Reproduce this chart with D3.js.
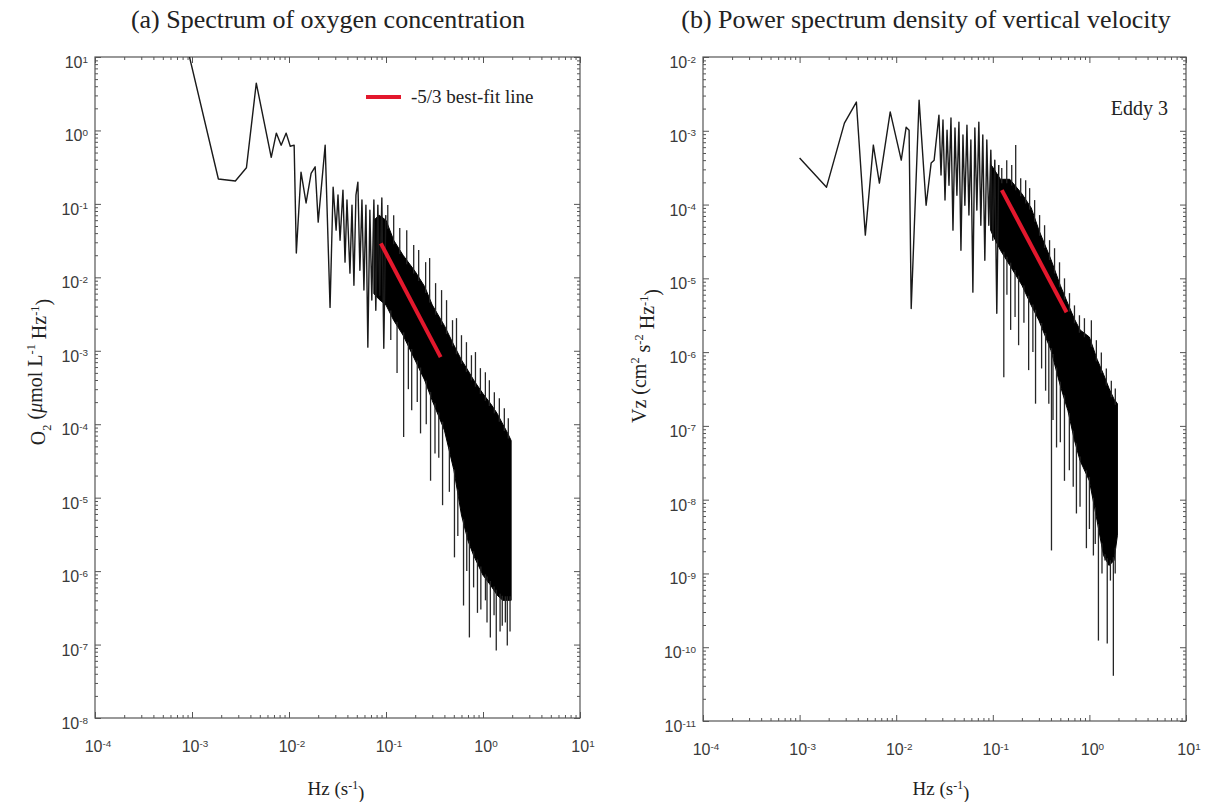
<html>
<head>
<meta charset="utf-8">
<style>
  body { margin: 0; background: #fff; }
  .box { fill: none; stroke: #555; stroke-width: 1.2; }
  .tick line { stroke: #555; }
  .domain { display: none; }
  .tlabel { font-family: "Liberation Sans", Arial, sans-serif; font-size: 16px; fill: #3a3a3a; }
  .serif { font-family: "Liberation Serif", "Times New Roman", serif; fill: #222; }
  .spec { fill: none; stroke: #1a1a1a; stroke-width: 1.4; stroke-linejoin: round; }
  .spike { stroke: #262626; stroke-width: 1.3; }
  .band { fill: #000; stroke: #000; stroke-width: 1; }
  .fit { stroke: #e3182d; stroke-width: 4; }
</style>
</head>
<body>
<svg id="chart" width="1208" height="802"></svg>
<script src="https://cdn.jsdelivr.net/npm/d3@7"></script>
<script>
// ---------- data ----------
const xTickExp = [-4, -3, -2, -1, 0, 1]
const oxyTickExp = [1, 0, -1, -2, -3, -4, -5, -6, -7, -8]
const vzTickExp = [-2, -3, -4, -5, -6, -7, -8, -9, -10, -11]

// (a) oxygen spectrum: low / middle frequencies as a line
const oxyLineHz = [0.0008, 0.00187, 0.0028, 0.00364, 0.0046, 0.00656, 0.0074, 0.0083, 0.00935, 0.0103, 0.0113, 0.0119,
  0.0133, 0.015, 0.0169, 0.0186, 0.02, 0.0236, 0.0265, 0.0285, 0.0306, 0.032, 0.0336, 0.036, 0.0378, 0.0396, 0.0425,
  0.0446, 0.0467, 0.049, 0.0513, 0.0538, 0.0565, 0.0592, 0.0621, 0.065, 0.0682, 0.0714, 0.075, 0.0785, 0.0824,
  0.0863, 0.0906, 0.0949, 0.0995]
const oxyLineVal = [25, 0.218, 0.205, 0.31, 4.4, 0.43, 0.92, 0.63, 0.92, 0.61, 0.63, 0.0214,
  0.27, 0.103, 0.26, 0.32, 0.0565, 0.63, 0.0039, 0.169, 0.0439, 0.132, 0.032, 0.154, 0.0161, 0.113, 0.0114,
  0.0963, 0.0078, 0.132, 0.198, 0.0125, 0.113, 0.0067, 0.0963, 0.00112, 0.082, 0.0049, 0.113, 0.00357, 0.0963,
  0.00571, 0.12, 0.00108, 0.0703]
// (a) high frequencies: solid core of the trace
const oxyBandHz = [0.075, 0.085, 0.1, 0.12, 0.15, 0.2, 0.25, 0.3, 0.4, 0.5, 0.6, 0.7, 0.8, 1.0, 1.2, 1.4, 1.6, 1.8, 1.95]
const oxyBandTop = [0.06, 0.07, 0.06, 0.032, 0.02, 0.012, 0.0075, 0.0042, 0.0022, 0.0012, 7.5e-4, 5.4e-4, 4e-4,
  2.6e-4, 1.9e-4, 1.4e-4, 1.0e-4, 7.5e-5, 6.0e-5]
const oxyBandLow = [0.006, 0.005, 0.0042, 0.0026, 0.00163, 7.4e-4, 4.0e-4, 2.1e-4, 8.3e-5, 2.4e-5, 5.8e-6, 2.6e-6,
  1.64e-6, 8.8e-7, 6.4e-7, 4.7e-7, 4.0e-7, 4.0e-7, 4.0e-7]
// (a) peaks above the core
const oxyUpHz = [0.1043, 0.12, 0.1386, 0.1636, 0.193, 0.2172, 0.2563, 0.2817, 0.3245, 0.374, 0.421, 0.485, 0.533,
  0.6, 0.675, 0.76, 0.836, 0.94, 1.058, 1.163, 1.309, 1.474, 1.659, 1.823]
const oxyUpVal = [0.0963, 0.0703, 0.0468, 0.0439, 0.0275, 0.0235, 0.0161, 0.0183, 0.00834, 0.0067, 0.00489, 0.00261,
  0.00278, 0.00163, 0.00131, 8.7e-4, 9.6e-4, 5.8e-4, 5.1e-4, 3.97e-4, 2.73e-4, 2.26e-4, 1.65e-4, 1.21e-4]
// (a) dips below the core
const oxyDownHz = [0.112, 0.13, 0.152, 0.17, 0.184, 0.21, 0.227, 0.26, 0.288, 0.32, 0.35, 0.383, 0.45, 0.508, 0.55,
  0.63, 0.68, 0.724, 0.8, 0.877, 0.95, 1.06, 1.1, 1.19, 1.3, 1.37, 1.5, 1.58, 1.7, 1.78, 1.9]
const oxyDownVal = [0.0014, 5e-4, 6.7e-5, 3e-4, 1.55e-4, 2e-4, 7.5e-5, 1e-4, 1.7e-5, 4e-5, 3.5e-5, 7.9e-6, 1.2e-5,
  1.54e-6, 3e-6, 3.4e-7, 1e-6, 1.25e-7, 6e-7, 2.7e-7, 3e-7, 4e-7, 2e-7, 1.25e-7, 2.5e-7, 8.3e-8, 1.5e-7, 1.8e-7,
  2e-7, 9.7e-8, 1.5e-7]
const oxyFitHz = [0.0885, 0.366]
const oxyFitVal = [0.029, 8.2e-4]

// (b) vertical velocity spectrum
const vzLineHz = [0.001, 0.0019, 0.00291, 0.00387, 0.00479, 0.0058, 0.0067, 0.00867, 0.01128, 0.01268, 0.0136,
  0.0143, 0.01726, 0.0204, 0.023, 0.0247, 0.0277, 0.0291, 0.0305, 0.032, 0.0336, 0.0352, 0.0369, 0.0387, 0.0406,
  0.0425, 0.0446, 0.0468, 0.0491, 0.0514, 0.054, 0.0566, 0.0593, 0.0622, 0.0652, 0.0684, 0.0717, 0.0752, 0.0788,
  0.0827, 0.0867, 0.0909, 0.0954, 0.1, 0.1049, 0.11, 0.1153]
const vzLineVal = [4.27e-4, 1.72e-4, 1.27e-3, 2.45e-3, 3.85e-5, 6.4e-4, 1.95e-4, 1.8e-3, 4.0e-4, 1.12e-3, 1.02e-3,
  3.9e-6, 2.6e-3, 9.8e-5, 3.65e-4, 4.0e-4, 1.63e-3, 2.51e-4, 1.4e-3, 1.15e-4, 1.02e-3, 1.83e-4, 1.49e-3, 4.5e-5,
  1.09e-3, 1.34e-4, 1.31e-3, 2.4e-5, 8.75e-4, 9.8e-5, 1.19e-3, 7.2e-5, 7.5e-4, 6.5e-6, 1.09e-3, 8.4e-5, 1.31e-3,
  5.25e-5, 8.75e-4, 1.76e-5, 7.5e-4, 5.25e-5, 5.47e-4, 3.29e-5, 4.0e-4, 3.36e-6, 3.43e-4]
const vzBandHz = [0.095, 0.1, 0.12, 0.15, 0.2, 0.25, 0.3, 0.4, 0.5, 0.6, 0.7, 0.8, 1.0, 1.2, 1.4, 1.6, 1.8, 1.95]
const vzBandTop = [3.5e-4, 3.2e-4, 2.2e-4, 2.2e-4, 1.4e-4, 9e-5, 4.5e-5, 1.8e-5, 8e-6, 4.5e-6, 2.8e-6, 2.0e-6,
  1.6e-6, 8e-7, 5e-7, 3.2e-7, 2.3e-7, 2e-7]
const vzBandLow = [4.5e-5, 3.85e-5, 2.4e-5, 1.5e-5, 8.1e-6, 4.3e-6, 2.7e-6, 1.06e-6, 3.5e-7, 1.6e-7, 6.4e-8, 3.4e-8,
  1.8e-8, 5.2e-9, 1.75e-9, 1.28e-9, 1.5e-9, 3.3e-9]
const vzUpHz = [0.1238, 0.1394, 0.157, 0.1726, 0.1944, 0.2189, 0.2406, 0.271, 0.3051, 0.3436, 0.3869, 0.4357,
  0.4906, 0.5524, 0.6221, 0.7005, 0.7888, 0.8882, 1.048, 1.181, 1.329, 1.497, 1.686, 1.854]
const vzUpVal = [3.12e-4, 4.0e-4, 3.43e-4, 6.4e-4, 2.28e-4, 2.14e-4, 1.67e-4, 1.15e-4, 7.2e-5, 5.25e-5, 3.29e-5,
  2.56e-5, 1.65e-5, 1.0e-5, 6.3e-6, 4.3e-6, 3.16e-6, 2.88e-6, 2.7e-6, 1.45e-6, 9.9e-7, 6.0e-7, 4.1e-7, 3.2e-7]
const vzDownHz = [0.13, 0.14, 0.153, 0.17, 0.185, 0.21, 0.235, 0.26, 0.277, 0.32, 0.352, 0.38, 0.405, 0.42, 0.457,
  0.5, 0.552, 0.62, 0.68, 0.734, 0.8, 0.931, 1.0, 1.1, 1.15, 1.24, 1.35, 1.45, 1.53, 1.65, 1.77, 1.85]
const vzDownVal = [4.55e-7, 6e-6, 2.0e-6, 3e-6, 1.24e-6, 2.5e-6, 5.7e-7, 1e-6, 2.0e-7, 6e-7, 3.0e-7, 2e-7, 2.05e-9,
  1.2e-7, 5.1e-8, 6e-8, 1.8e-8, 2.5e-8, 1.5e-8, 6.5e-9, 8e-9, 2.2e-9, 4e-9, 1.75e-9, 2.5e-9, 1.23e-10, 1e-9,
  1.5e-9, 1.12e-10, 8e-10, 4.1e-11, 1e-9]
const vzFitHz = [0.124, 0.58]
const vzFitVal = [1.57e-4, 3.47e-6]

// ---------- drawing ----------
const svg = d3.select("#chart")

function addParts(textSel, parts) {
  // parts: [text, kind, dy]
  parts.forEach(p => {
    let t = textSel.append("tspan").text(p[0])
    if (p[1] === "sup") t.attr("font-size", "0.62em").attr("dy", "-0.55em")
    if (p[1] === "sub") t.attr("font-size", "0.62em").attr("dy", "0.45em")
    if (p[1] === "back") t.attr("dy", p[2])
    if (p[1] === "it") t.attr("font-style", "italic")
  })
}

function drawPanel(cfg) {
  let x = d3.scaleLog().domain([1e-4, 10]).range([cfg.x0, cfg.x1])
  let y = d3.scaleLog().domain([Math.pow(10, cfg.yExp[cfg.yExp.length - 1]), Math.pow(10, cfg.yExp[0])])
    .range([cfg.y1, cfg.y0])
  let g = svg.append("g")
  let clipId = "clip" + cfg.id
  g.append("clipPath").attr("id", clipId).append("rect")
    .attr("x", cfg.x0).attr("y", cfg.y0).attr("width", cfg.x1 - cfg.x0).attr("height", cfg.y1 - cfg.y0)

  // minor + major ticks, pointing inward on all four sides
  let W = cfg.x1 - cfg.x0, H = cfg.y1 - cfg.y0
  let xMinor = x.ticks().filter(v => Math.abs(Math.log10(v) % 1) > 1e-6)
  let yMinor = y.ticks().filter(v => Math.abs(Math.log10(v) % 1) > 1e-6)
  let xMajor = xTickExp.map(e => Math.pow(10, e))
  let yMajor = cfg.yExp.map(e => Math.pow(10, e))
  let noLab = () => ""
  ;[[xMinor, 3], [xMajor, 6]].forEach(([vals, len]) => {
    g.append("g").attr("transform", `translate(0,${cfg.y1})`)
      .call(d3.axisBottom(x).tickValues(vals).tickSize(-len).tickFormat(noLab))
    g.append("g").attr("transform", `translate(0,${cfg.y0})`)
      .call(d3.axisTop(x).tickValues(vals).tickSize(-len).tickFormat(noLab))
  })
  ;[[yMinor, 3], [yMajor, 6]].forEach(([vals, len]) => {
    g.append("g").attr("transform", `translate(${cfg.x0},0)`)
      .call(d3.axisLeft(y).tickValues(vals).tickSize(-len).tickFormat(noLab))
    g.append("g").attr("transform", `translate(${cfg.x1},0)`)
      .call(d3.axisRight(y).tickValues(vals).tickSize(-len).tickFormat(noLab))
  })
  g.append("rect").attr("class", "box").attr("x", cfg.x0).attr("y", cfg.y0).attr("width", W).attr("height", H)

  // tick labels  10^n
  xTickExp.forEach(e => {
    let t = g.append("text").attr("class", "tlabel").attr("text-anchor", "middle")
      .attr("x", x(Math.pow(10, e)) + 3).attr("y", cfg.y1 + 34)
    addParts(t, [["10", "n"], [String(e), "sup"]])
  })
  cfg.yExp.forEach(e => {
    let t = g.append("text").attr("class", "tlabel").attr("text-anchor", "end")
      .attr("x", cfg.x0 - 7).attr("y", y(Math.pow(10, e)) + 11)
    addParts(t, [["10", "n"], [String(e), "sup"]])
  })

  let plot = g.append("g").attr("clip-path", `url(#${clipId})`)

  // solid core of the dense part
  let band = cfg.bandHz.map((f, i) => ({ f: f, top: cfg.bandTop[i], low: cfg.bandLow[i] }))
  plot.append("path").datum(band).attr("class", "band")
    .attr("d", d3.area().x(d => x(d.f)).y0(d => y(d.low)).y1(d => y(d.top)))

  // peaks and dips leaving the core
  let lowAt = d3.scaleLinear().domain(cfg.bandHz.map(f => x(f))).range(cfg.bandLow.map(v => y(v))).clamp(true)
  let topAt = d3.scaleLinear().domain(cfg.bandHz.map(f => x(f))).range(cfg.bandTop.map(v => y(v))).clamp(true)
  plot.selectAll(".spike.down").data(cfg.downHz.map((f, i) => ({ f: f, v: cfg.downVal[i] })))
    .join("line").attr("class", "spike down")
    .attr("x1", d => x(d.f)).attr("x2", d => x(d.f))
    .attr("y1", d => lowAt(x(d.f)) - 4).attr("y2", d => y(d.v))
  plot.selectAll(".spike.up").data(cfg.upHz.map((f, i) => ({ f: f, v: cfg.upVal[i] })))
    .join("line").attr("class", "spike up")
    .attr("x1", d => x(d.f)).attr("x2", d => x(d.f))
    .attr("y1", d => topAt(x(d.f)) + 4).attr("y2", d => y(d.v))

  // low-frequency line
  let line = d3.line().x(d => x(d.f)).y(d => y(d.v))
  plot.append("path").datum(cfg.lineHz.map((f, i) => ({ f: f, v: cfg.lineVal[i] })))
    .attr("class", "spec").attr("d", line)

  // -5/3 fit
  plot.append("line").attr("class", "fit")
    .attr("x1", x(cfg.fitHz[0])).attr("y1", y(cfg.fitVal[0]))
    .attr("x2", x(cfg.fitHz[1])).attr("y2", y(cfg.fitVal[1]))

  // titles and axis labels
  g.append("text").attr("class", "serif").attr("text-anchor", "middle")
    .attr("x", cfg.titleX).attr("y", 28).attr("font-size", 26).text(cfg.title)
  let xl = g.append("text").attr("class", "serif").attr("text-anchor", "middle")
    .attr("x", cfg.xLabelX).attr("y", 795).attr("font-size", 19)
  addParts(xl, [["Hz (s", "n"], ["-1", "sup"], [")", "back", "0.55em"]])
  let yl = g.append("text").attr("class", "serif").attr("text-anchor", "middle").attr("font-size", 20)
    .attr("transform", `translate(${cfg.yLabelX},${cfg.yLabelY}) rotate(-90)`)
  addParts(yl, cfg.yLabel)
}

drawPanel({
  id: "a", x0: 95, x1: 580, y0: 57, y1: 718, yExp: oxyTickExp,
  lineHz: oxyLineHz, lineVal: oxyLineVal, bandHz: oxyBandHz, bandTop: oxyBandTop, bandLow: oxyBandLow,
  upHz: oxyUpHz, upVal: oxyUpVal, downHz: oxyDownHz, downVal: oxyDownVal, fitHz: oxyFitHz, fitVal: oxyFitVal,
  title: "(a) Spectrum of oxygen concentration", titleX: 328, xLabelX: 336, yLabelX: 45, yLabelY: 372,
  yLabel: [["O", "n"], ["2", "sub"], [" (", "back", "-0.45em"], ["\u03bc", "it"], ["mol L", "n"], ["-1", "sup"],
    [" Hz", "back", "0.55em"], ["-1", "sup"], [")", "back", "0.55em"]]
})

drawPanel({
  id: "b", x0: 703, x1: 1186, y0: 57, y1: 721, yExp: vzTickExp,
  lineHz: vzLineHz, lineVal: vzLineVal, bandHz: vzBandHz, bandTop: vzBandTop, bandLow: vzBandLow,
  upHz: vzUpHz, upVal: vzUpVal, downHz: vzDownHz, downVal: vzDownVal, fitHz: vzFitHz, fitVal: vzFitVal,
  title: "(b) Power spectrum density of vertical velocity", titleX: 926, xLabelX: 941, yLabelX: 646, yLabelY: 356,
  yLabel: [["Vz (cm", "n"], ["2", "sup"], [" s", "back", "0.55em"], ["-2", "sup"], [" Hz", "back", "0.55em"],
    ["-1", "sup"], [")", "back", "0.55em"]]
})

// legend in (a)
svg.append("line").attr("class", "fit").attr("x1", 366).attr("x2", 401).attr("y1", 97).attr("y2", 97)
svg.append("text").attr("class", "serif").attr("x", 411).attr("y", 103).attr("font-size", 19)
  .text("-5/3 best-fit line")
// eddy label in (b)
svg.append("text").attr("class", "serif").attr("x", 1168).attr("y", 115).attr("font-size", 20)
  .attr("text-anchor", "end").text("Eddy 3")
</script>
</body>
</html>
